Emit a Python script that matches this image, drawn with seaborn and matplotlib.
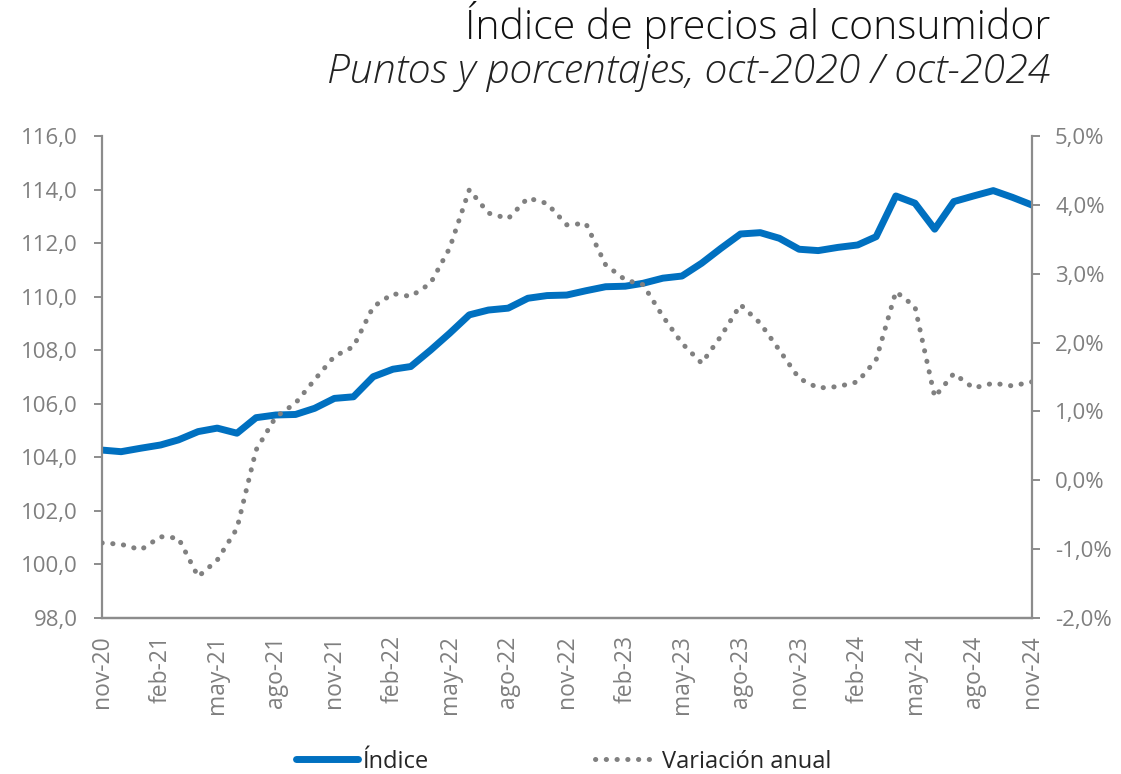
import numpy as np
import pandas as pd
import matplotlib
matplotlib.use("Agg")
import matplotlib.pyplot as plt
from matplotlib.ticker import FuncFormatter
import seaborn as sns

# --- DATA ---
MONTHS = pd.date_range("2020-11-01", "2024-11-01", freq="MS")
MONTH_ABBR = ["ene", "feb", "mar", "abr", "may", "jun", "jul", "ago", "sep", "oct", "nov", "dic"]

INDICE = [
    104.27, 104.21, 104.34, 104.46, 104.65, 104.96, 105.09, 104.90, 105.48, 105.58,
    105.60, 105.83, 106.20, 106.26, 107.01, 107.29, 107.39, 108.00, 108.63, 109.32,
    109.50, 109.57, 109.94, 110.04, 110.06, 110.22, 110.37, 110.39, 110.50, 110.69,
    110.77, 111.25, 111.80, 112.34, 112.39, 112.18, 111.77, 111.72, 111.84, 111.93,
    112.24, 113.76, 113.49, 112.52, 113.55, 113.76, 113.96, 113.71, 113.42,
]
VARIACION = [
    -0.91, -0.93, -1.01, -0.82, -0.84, -1.40, -1.16, -0.70, 0.44, 0.92,
    1.12, 1.46, 1.80, 1.94, 2.52, 2.71, 2.67, 2.86, 3.37, 4.22,
    3.88, 3.80, 4.10, 4.02, 3.71, 3.73, 3.13, 2.91, 2.84, 2.38,
    1.99, 1.70, 2.09, 2.55, 2.28, 1.89, 1.48, 1.34, 1.36, 1.43,
    1.75, 2.74, 2.52, 1.21, 1.55, 1.34, 1.41, 1.37, 1.43,
]

BLUE = "#0070C0"
GREY = "#808080"
AXIS_GREY = "#8c8c8c"
TEXT_GREY = "#7f7f7f"

df = pd.DataFrame({"fecha": MONTHS, "indice": INDICE, "variacion": VARIACION})

sns.set_style("white")
plt.rcParams["font.family"] = ["Open Sans", "DejaVu Sans"]

fig = plt.figure(figsize=(11.21, 7.74), dpi=100)
ax = fig.add_axes([0.091, 0.2016, 0.8297, 0.6227])
ax2 = ax.twinx()

sns.lineplot(data=df, x="fecha", y="indice", ax=ax, color=BLUE, linewidth=5,
             solid_capstyle="round", solid_joinstyle="round", label="Índice", legend=False)
sns.lineplot(data=df, x="fecha", y="variacion", ax=ax2, color=GREY, linewidth=3.6,
             label="Variación anual", legend=False)
dots = ax2.lines[0]
dots.set_dashes([0.05, 2.1])
dots.set_dash_capstyle("round")

# axes ranges
ax.set_ylim(98, 116)
ax.set_yticks(np.arange(98, 116.1, 2))
ax2.set_ylim(-2, 5)
ax2.set_yticks(np.arange(-2, 5.1, 1))
ax.set_xlim(MONTHS[0], MONTHS[-1])

ax.yaxis.set_major_formatter(FuncFormatter(lambda v, _: f"{v:.1f}".replace(".", ",")))
ax2.yaxis.set_major_formatter(FuncFormatter(lambda v, _: f"{v:.1f}%".replace(".", ",")))

xticks = MONTHS[::3]
ax.set_xticks(xticks)
ax.set_xticklabels([f"{MONTH_ABBR[d.month - 1]}-{d.year % 100:02d}" for d in xticks], rotation=90)

ax.set_xlabel("")
ax.set_ylabel("")
ax2.set_ylabel("")

for a in (ax, ax2):
    a.spines["top"].set_visible(False)
    for side in ("left", "right", "bottom"):
        a.spines[side].set_color(AXIS_GREY)
        a.spines[side].set_linewidth(1.6)
    a.tick_params(axis="both", colors=AXIS_GREY, labelcolor=TEXT_GREY, labelsize=16,
                  length=5.5, width=1.4, direction="out")
    a.grid(False)
ax.spines["right"].set_visible(False)
ax2.spines["left"].set_visible(False)
ax.tick_params(axis="y", pad=12)
ax2.tick_params(axis="y", pad=11)
ax.tick_params(axis="x", pad=7, labelsize=16.5)

# titles
fig.text(0.937, 0.949, "Índice de precios al consumidor", ha="right", va="baseline",
         fontsize=29.5, fontweight="light", color="#111111")
fig.text(0.937, 0.893, "Puntos y porcentajes, oct-2020 / oct-2024", ha="right", va="baseline",
         fontsize=29.5, fontweight="light", style="italic", color="#222222")

# legend
handles = [ax.lines[0], dots]
fig.legend(handles, ["Índice", "Variación anual"], loc="center", ncol=2,
           bbox_to_anchor=(0.503, 0.016), frameon=False, fontsize=17,
           labelcolor="#262626", handlelength=2.6, handletextpad=0.25, columnspacing=7.0)

fig.savefig("out.png", dpi=100)
